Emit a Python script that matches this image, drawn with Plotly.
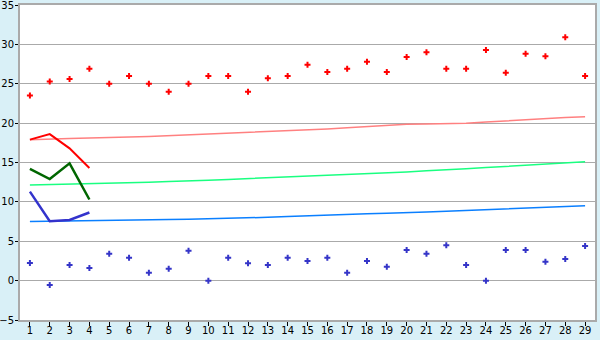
import plotly.graph_objects as go

x = list(range(1, 30))

red_pts = [23.5, 25.3, 25.6, 26.9, 25.0, 26.0, 25.0, 24.0, 25.0, 26.0,
           26.0, 24.0, 25.7, 26.0, 27.4, 26.5, 26.9, 27.8, 26.5, 28.4,
           29.0, 26.9, 26.9, 29.3, 26.4, 28.8, 28.5, 30.9, 26.0]
blue_pts = [2.25, -0.55, 2.0, 1.6, 3.4, 2.9, 1.0, 1.5, 3.8, 0.0,
            2.9, 2.2, 2.0, 2.9, 2.5, 2.9, 1.0, 2.5, 1.75, 3.9,
            3.4, 4.5, 2.0, 0.0, 3.9, 3.9, 2.4, 2.75, 4.4]

pink_trend = [17.9, 18.0, 18.05, 18.1, 18.2, 18.25, 18.3, 18.4, 18.5, 18.6,
              18.7, 18.8, 18.9, 19.0, 19.1, 19.25, 19.4, 19.55, 19.7, 19.85,
              19.9, 19.95, 20.0, 20.15, 20.3, 20.4, 20.55, 20.7, 20.8]
green_trend = [12.15, 12.2, 12.25, 12.3, 12.4, 12.45, 12.5, 12.6, 12.65, 12.75,
               12.85, 12.95, 13.05, 13.15, 13.25, 13.35, 13.45, 13.55, 13.7, 13.8,
               13.95, 14.05, 14.2, 14.35, 14.5, 14.65, 14.8, 14.95, 15.1]
blue_trend = [7.5, 7.55, 7.6, 7.65, 7.7, 7.72, 7.74, 7.77, 7.8, 7.85,
              7.9, 7.97, 8.04, 8.15, 8.25, 8.35, 8.45, 8.5, 8.55, 8.6,
              8.7, 8.8, 8.9, 9.0, 9.15, 9.25, 9.35, 9.45, 9.52]

short_x = [1, 2, 3, 4]
red_line = [17.9, 18.6, 16.8, 14.3]
green_line = [14.2, 12.9, 14.9, 10.3]
blue_line = [11.3, 7.55, 7.7, 8.65]

fig = go.Figure()
fig.add_trace(go.Scatter(x=x, y=pink_trend, mode="lines", line=dict(color="#ff8080", width=1.5)))
fig.add_trace(go.Scatter(x=x, y=green_trend, mode="lines", line=dict(color="#19ff80", width=1.5)))
fig.add_trace(go.Scatter(x=x, y=blue_trend, mode="lines", line=dict(color="#0a7fff", width=1.5)))
fig.add_trace(go.Scatter(x=short_x, y=red_line, mode="lines", line=dict(color="#ff0000", width=2)))
fig.add_trace(go.Scatter(x=short_x, y=green_line, mode="lines", line=dict(color="#006600", width=2.5)))
fig.add_trace(go.Scatter(x=short_x, y=blue_line, mode="lines", line=dict(color="#3333cc", width=2.5)))
fig.add_trace(go.Scatter(x=x, y=red_pts, mode="markers",
                         marker=dict(symbol="cross", size=5, color="#ff0000")))
fig.add_trace(go.Scatter(x=x, y=blue_pts, mode="markers",
                         marker=dict(symbol="cross", size=5, color="#3535c8")))

fig.update_layout(
    width=600, height=340,
    margin=dict(l=20, r=5, t=5, b=20),
    paper_bgcolor="#d9f0f7",
    plot_bgcolor="#ffffff",
    showlegend=False,
    font=dict(family="DejaVu Sans", size=10, color="#000000"),
)
fig.update_xaxes(
    range=[0.5, 29.5], tickmode="array", tickvals=x, ticktext=[str(v) for v in x],
    showgrid=False, zeroline=False, showline=True, linecolor="#aaaaaa", linewidth=2,
    mirror=True, ticks="outside", ticklen=4, tickcolor="#000000", tickwidth=1,
    automargin=False, ticklabelstandoff=-4, ticklabeloverflow="allow",
)
fig.update_yaxes(
    range=[-5, 35], dtick=5, tick0=0,
    showgrid=True, gridcolor="#aaaaaa", gridwidth=1, zeroline=False,
    showline=True, linecolor="#aaaaaa", linewidth=2, mirror=True,
    ticks="outside", ticklen=3, tickcolor="#000000", automargin=False,
    ticklabeloverflow="allow", ticklabelstandoff=-1,
)

fig.write_html("out.html")
